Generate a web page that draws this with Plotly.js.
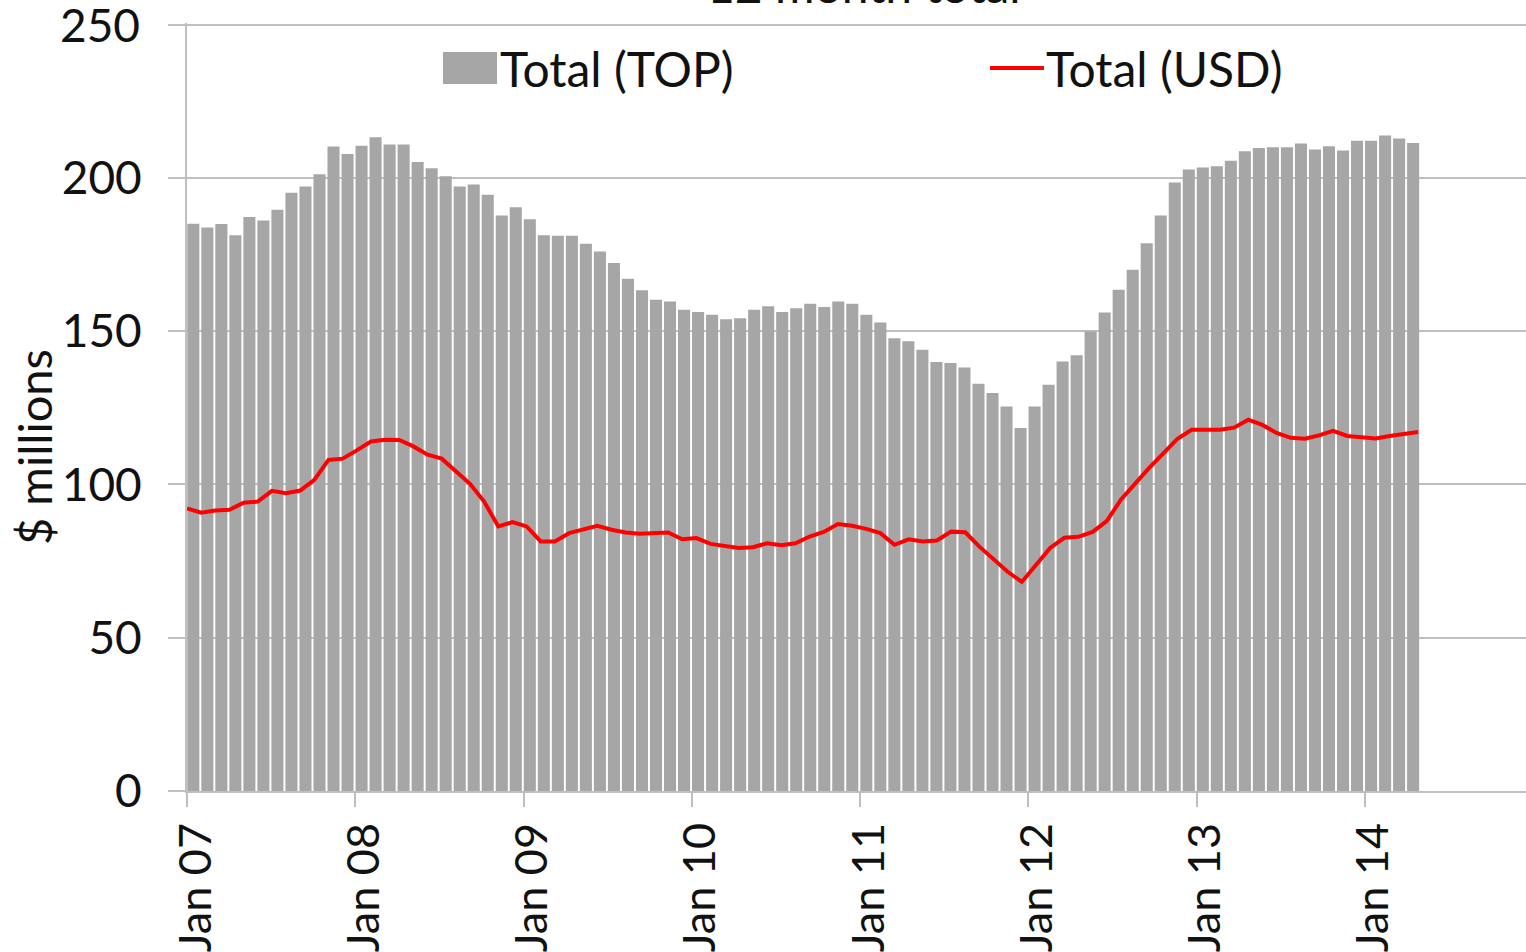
<!DOCTYPE html>
<html>
<head>
<meta charset="utf-8">
<script src="https://cdn.plot.ly/plotly-3.0.1.min.js"></script>
<style>
  html, body { margin: 0; padding: 0; background: #ffffff; }
  #chart { width: 1526px; height: 952px; }
</style>
</head>
<body>
<div id="chart"></div>
<script>
// ---- data (monthly, Jan 2007 .. Apr 2014) ----
const monthIndex = Array.from({length: 88}, (_, i) => i);

const totalTOP = [
  185.0, 183.8, 184.9, 181.3, 187.2, 186.1, 189.6, 195.1, 197.2, 201.2, 210.2, 207.8,
  210.5, 213.2, 210.9, 210.9, 205.2, 203.1, 200.5, 197.2, 197.8, 194.5, 187.7, 190.4,
  186.5, 181.3, 181.1, 181.1, 178.5, 176.0, 172.2, 167.1, 163.3, 160.2, 159.7, 157.0,
  156.2, 155.3, 153.9, 154.2, 157.0, 158.1, 156.2, 157.5, 158.9, 157.9, 159.7, 158.9,
  155.3, 152.8, 147.7, 146.7, 143.9, 139.9, 139.6, 138.1, 132.8, 129.8, 125.4, 118.4,
  125.4, 132.5, 140.1, 142.1, 149.9, 156.1, 163.5, 170.0, 178.7, 187.7, 198.5, 202.7,
  203.4, 203.8, 205.6, 208.7, 209.7, 210.0, 210.0, 211.2, 209.2, 210.3, 208.9, 212.1,
  212.1, 213.8, 212.8, 211.4
];

const totalUSD = [
  92.2, 90.8, 91.5, 91.7, 94.0, 94.4, 97.9, 97.1, 98.0, 101.5, 108.0, 108.4,
  111.1, 114.0, 114.6, 114.5, 112.4, 109.7, 108.4, 104.2, 100.2, 94.4, 86.3, 87.7,
  86.3, 81.4, 81.4, 84.1, 85.2, 86.5, 85.2, 84.3, 83.9, 84.1, 84.3, 82.1,
  82.5, 80.6, 80.0, 79.3, 79.5, 80.8, 80.2, 80.8, 83.0, 84.5, 87.1, 86.5,
  85.5, 84.1, 80.3, 82.1, 81.4, 81.7, 84.6, 84.4, 79.7, 75.4, 71.5, 68.2,
  73.8, 79.3, 82.6, 82.9, 84.5, 88.0, 95.0, 100.4, 105.4, 110.1, 114.9, 117.8,
  117.8, 117.8, 118.5, 121.1, 119.4, 116.8, 115.2, 114.9, 116.0, 117.5, 115.8, 115.5,
  115.0, 115.8, 116.5, 117.1
];

const tickMonths = [0, 12, 24, 36, 48, 60, 72, 84];
const tickLabels = ['Jan 07', 'Jan 08', 'Jan 09', 'Jan 10', 'Jan 11', 'Jan 12', 'Jan 13', 'Jan 14'];
const yTicks = [0, 50, 100, 150, 200, 250];

const seriesNames = ['Total (TOP)', 'Total (USD)'];
const chartTitle = '12 month total';
const yTitle = '$ millions';

// ---- layout geometry ----
const W = 1526, H = 952;
const M = {l: 187, r: 0, t: 23, b: 161};
const PW = W - M.l - M.r, PH = H - M.t - M.b;
const px2x = p => (p - M.l) / PW;
const py2y = p => (H - M.b - p) / PH;
const Y_MAX = 250.5;

const FONT = 'Lato, "Open Sans", "DejaVu Sans", sans-serif';
const GRID = '#bfbfbf';
const TXT = '#111111';

const barX = monthIndex.map(i => i + 0.45);
const lineX = monthIndex.map(i => i * 87.8 / 87);

// the top tick label is drawn as an annotation (Plotly drops it at the page edge)
const topTick = yTicks[yTicks.length - 1];
const yTickText = yTicks.map(v => v === topTick ? '' : String(v));

const traces = [
  {
    type: 'bar', name: seriesNames[0], x: barX, y: totalTOP, width: 0.86,
    marker: {color: '#a6a6a6', line: {width: 0}}, hoverinfo: 'y'
  },
  {
    type: 'scatter', mode: 'lines', name: seriesNames[1], x: lineX, y: totalUSD,
    line: {color: '#ff0000', width: 4}, hoverinfo: 'y'
  }
];

const layout = {
  width: W, height: H,
  margin: M,
  paper_bgcolor: '#ffffff', plot_bgcolor: '#ffffff',
  showlegend: false,
  font: {family: FONT, color: TXT, size: 46},
  xaxis: {
    range: [0, 95.5], tickmode: 'array', tickvals: tickMonths, ticktext: tickLabels,
    tickangle: -90, ticks: 'outside', ticklen: 14, tickwidth: 2, tickcolor: GRID,
    showline: true, linecolor: GRID, linewidth: 2, showgrid: false, zeroline: false,
    tickfont: {family: FONT, size: 45, color: TXT}, ticklabelstandoff: -2, ticklabelshift: 9,
    fixedrange: true
  },
  yaxis: {
    range: [0, Y_MAX], tickmode: 'array', tickvals: yTicks, ticktext: yTickText,
    ticks: 'outside', ticklen: 17, tickwidth: 2,
    tickcolor: GRID, showline: true, linecolor: GRID, linewidth: 2,
    showgrid: true, gridcolor: GRID, gridwidth: 2, zeroline: false,
    tickfont: {family: FONT, size: 46, color: TXT}, ticklabelstandoff: 17,
    fixedrange: true
  },
  shapes: [
    {type: 'rect', xref: 'paper', yref: 'paper',
     x0: px2x(443), x1: px2x(497), y0: py2y(84), y1: py2y(52),
     fillcolor: '#a6a6a6', line: {width: 0}},
    {type: 'line', xref: 'paper', yref: 'paper',
     x0: px2x(990), x1: px2x(1044), y0: py2y(68), y1: py2y(68),
     line: {color: '#ff0000', width: 4}}
  ],
  annotations: [
    {text: String(topTick), xref: 'paper', yref: 'y', x: px2x(142), y: topTick,
     xanchor: 'right', yanchor: 'middle', showarrow: false,
     font: {family: FONT, size: 46, color: TXT}},
    {text: seriesNames[0], xref: 'paper', yref: 'paper', x: px2x(498), y: py2y(68),
     xanchor: 'left', yanchor: 'middle', showarrow: false,
     font: {family: FONT, size: 48, color: TXT}},
    {text: seriesNames[1], xref: 'paper', yref: 'paper', x: px2x(1044), y: py2y(68),
     xanchor: 'left', yanchor: 'middle', showarrow: false,
     font: {family: FONT, size: 48, color: TXT}},
    {text: chartTitle, xref: 'paper', yref: 'paper', x: px2x(864), y: py2y(-15),
     xanchor: 'center', yanchor: 'middle', showarrow: false,
     font: {family: FONT, size: 48, color: TXT}},
    {text: yTitle, xref: 'paper', yref: 'paper', x: px2x(34), y: py2y(447),
     xanchor: 'center', yanchor: 'middle', textangle: -90, showarrow: false,
     font: {family: FONT, size: 47, color: TXT}}
  ]
};

Plotly.newPlot('chart', traces, layout, {displayModeBar: false, staticPlot: true});
</script>
</body>
</html>
